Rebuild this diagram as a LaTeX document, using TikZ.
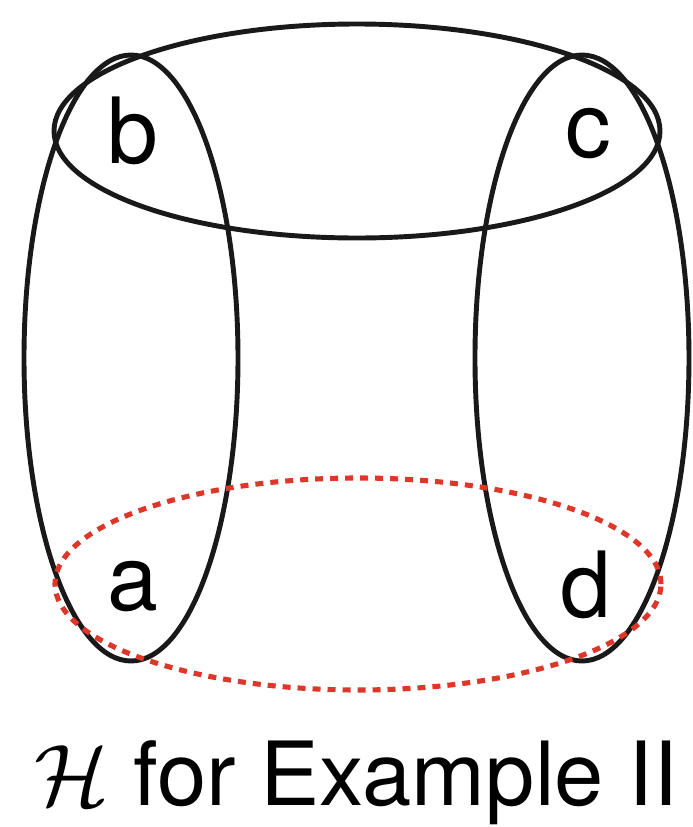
\documentclass[tikz,border=0pt]{standalone}
\usepackage{fontspec}
\setmainfont{TeX Gyre Heros}
\usetikzlibrary{positioning}
\definecolor{edgered}{RGB}{220,55,40}

\begin{document}
\begin{tikzpicture}[
  hedge/.style={line width=1.4pt,black!90},
  redge/.style={line width=1.45pt,edgered,dash pattern=on 0.08cm off 0.07cm},
  vertex/.style={font=\fontsize{26}{30}\selectfont,anchor=base,inner sep=0pt}]
\useasboundingbox (0,0) rectangle (6.93,8.27);
% vertices
\node[vertex] (b) at (1.33,6.64) {b};
\node[vertex] (c) at (5.88,6.70) {c};
\node[vertex] (a) at (1.33,2.17) {a};
\node[vertex] (d) at (5.86,2.10) {d};
% hyperedges
\draw[hedge] (3.57,6.96) ellipse [x radius=3.03,y radius=1.07];
\draw[hedge] (1.31,4.69) ellipse [x radius=1.07,y radius=3.03];
\draw[hedge] (5.82,4.69) ellipse [x radius=1.07,y radius=3.03];
\draw[redge] (3.58,2.43) ellipse [x radius=3.03,y radius=1.06];
% caption
\node[vertex,font=\fontsize{25.2}{30}\selectfont] (cap) at (3.56,0.21) {$\mathcal{H}$ for Example II};
\end{tikzpicture}
\end{document}
